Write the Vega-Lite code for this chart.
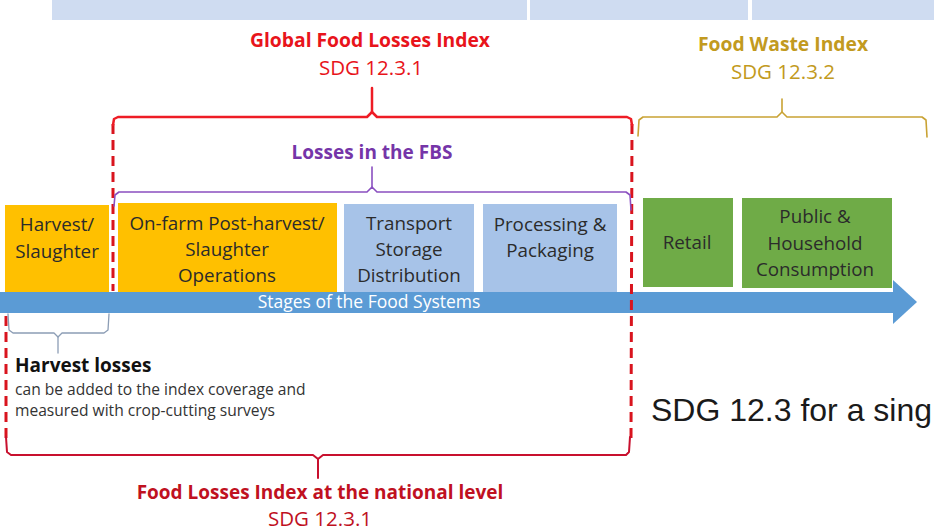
{
  "$schema": "https://vega.github.io/schema/vega-lite/v6.json",
  "width": 934,
  "height": 531,
  "padding": 0,
  "autosize": {"type": "fit", "contains": "padding"},
  "background": "white",
  "config": {"view": {"stroke": null}},
  "datasets": {
    "bars": [
      {"x": 52, "x2": 527, "y": 0, "y2": 20},
      {"x": 530, "x2": 748, "y": 0, "y2": 20},
      {"x": 752, "x2": 934, "y": 0, "y2": 20}
    ],
    "boxes": [
      {"kind": "farm", "x": 5, "x2": 109, "y": 205, "y2": 292},
      {"kind": "farm", "x": 118, "x2": 337, "y": 203, "y2": 292},
      {"kind": "fbs", "x": 344, "x2": 474, "y": 204, "y2": 292},
      {"kind": "fbs", "x": 483, "x2": 617, "y": 204, "y2": 292},
      {"kind": "waste", "x": 643, "x2": 733, "y": 198, "y2": 287},
      {"kind": "waste", "x": 742, "x2": 892, "y": 198, "y2": 288}
    ],
    "shaft": [{"x": 0, "x2": 894, "y": 292, "y2": 313}],
    "head": [
      {"x": 893, "y": 280, "y2": 324},
      {"x": 917, "y": 302, "y2": 302}
    ],
    "lines": [
      {"id": "redtop", "o": 1, "x": 113, "y": 125},
      {"id": "redtop", "o": 2, "x": 114, "y": 119},
      {"id": "redtop", "o": 3, "x": 118, "y": 117},
      {"id": "redtop", "o": 4, "x": 367, "y": 117},
      {"id": "redtop", "o": 5, "x": 372, "y": 112},
      {"id": "redtop", "o": 6, "x": 377, "y": 117},
      {"id": "redtop", "o": 7, "x": 627, "y": 117},
      {"id": "redtop", "o": 8, "x": 631, "y": 119},
      {"id": "redtop", "o": 9, "x": 632, "y": 125},
      {"id": "redtick", "o": 1, "x": 372, "y": 112},
      {"id": "redtick", "o": 2, "x": 372, "y": 88},
      {"id": "gold", "o": 1, "x": 638, "y": 136},
      {"id": "gold", "o": 2, "x": 639, "y": 120},
      {"id": "gold", "o": 3, "x": 643, "y": 117},
      {"id": "gold", "o": 4, "x": 777, "y": 117},
      {"id": "gold", "o": 5, "x": 782, "y": 112},
      {"id": "gold", "o": 6, "x": 787, "y": 117},
      {"id": "gold", "o": 7, "x": 922, "y": 117},
      {"id": "gold", "o": 8, "x": 926, "y": 120},
      {"id": "gold", "o": 9, "x": 927, "y": 137},
      {"id": "goldtick", "o": 1, "x": 782, "y": 112},
      {"id": "goldtick", "o": 2, "x": 782, "y": 99},
      {"id": "purple", "o": 1, "x": 114, "y": 206},
      {"id": "purple", "o": 2, "x": 115, "y": 195},
      {"id": "purple", "o": 3, "x": 119, "y": 192},
      {"id": "purple", "o": 4, "x": 367, "y": 192},
      {"id": "purple", "o": 5, "x": 372, "y": 187},
      {"id": "purple", "o": 6, "x": 377, "y": 192},
      {"id": "purple", "o": 7, "x": 626, "y": 192},
      {"id": "purple", "o": 8, "x": 630, "y": 195},
      {"id": "purple", "o": 9, "x": 631, "y": 210},
      {"id": "purpletick", "o": 1, "x": 372, "y": 187},
      {"id": "purpletick", "o": 2, "x": 372, "y": 167},
      {"id": "redbot", "o": 1, "x": 6, "y": 437},
      {"id": "redbot", "o": 2, "x": 7, "y": 452},
      {"id": "redbot", "o": 3, "x": 11, "y": 455},
      {"id": "redbot", "o": 4, "x": 313, "y": 455},
      {"id": "redbot", "o": 5, "x": 318, "y": 459},
      {"id": "redbot", "o": 6, "x": 323, "y": 455},
      {"id": "redbot", "o": 7, "x": 626, "y": 455},
      {"id": "redbot", "o": 8, "x": 629, "y": 452},
      {"id": "redbot", "o": 9, "x": 630, "y": 437},
      {"id": "redbottick", "o": 1, "x": 318, "y": 459},
      {"id": "redbottick", "o": 2, "x": 318, "y": 478},
      {"id": "grey", "o": 1, "x": 8, "y": 314},
      {"id": "grey", "o": 2, "x": 9, "y": 330},
      {"id": "grey", "o": 3, "x": 13, "y": 333},
      {"id": "grey", "o": 4, "x": 54, "y": 333},
      {"id": "grey", "o": 5, "x": 58, "y": 337},
      {"id": "grey", "o": 6, "x": 62, "y": 333},
      {"id": "grey", "o": 7, "x": 104, "y": 333},
      {"id": "grey", "o": 8, "x": 108, "y": 330},
      {"id": "grey", "o": 9, "x": 109, "y": 314},
      {"id": "greytick", "o": 1, "x": 58, "y": 337},
      {"id": "greytick", "o": 2, "x": 58, "y": 353}
    ],
    "dashed": [
      {"id": "d1", "o": 1, "x": 113, "y": 124},
      {"id": "d1", "o": 2, "x": 113, "y": 291},
      {"id": "d2", "o": 1, "x": 632, "y": 124},
      {"id": "d2", "o": 2, "x": 631, "y": 438},
      {"id": "d3", "o": 1, "x": 6, "y": 316},
      {"id": "d3", "o": 2, "x": 6, "y": 438}
    ],
    "texts": [
      {"g": "redhead", "t": "Global Food Losses Index", "x": 370, "y": 41},
      {"g": "redsub", "t": "SDG 12.3.1", "x": 371, "y": 69},
      {"g": "goldhead", "t": "Food Waste Index", "x": 783, "y": 45},
      {"g": "goldsub", "t": "SDG 12.3.2", "x": 783, "y": 73},
      {"g": "purplehead", "t": "Losses in the FBS", "x": 372, "y": 153},
      {"g": "box", "t": "Harvest/", "x": 57, "y": 225},
      {"g": "box", "t": "Slaughter", "x": 57, "y": 252},
      {"g": "box", "t": "On-farm  Post-harvest/", "x": 227, "y": 224},
      {"g": "box", "t": "Slaughter", "x": 227, "y": 250},
      {"g": "box", "t": "Operations", "x": 227, "y": 276},
      {"g": "box", "t": "Transport", "x": 409, "y": 224},
      {"g": "box", "t": "Storage", "x": 409, "y": 250},
      {"g": "box", "t": "Distribution", "x": 409, "y": 276},
      {"g": "box", "t": "Processing &", "x": 550, "y": 225},
      {"g": "box", "t": "Packaging", "x": 550, "y": 251},
      {"g": "box", "t": "Retail", "x": 687, "y": 243},
      {"g": "box", "t": "Public &", "x": 815, "y": 217},
      {"g": "box", "t": "Household", "x": 815, "y": 244},
      {"g": "box", "t": "Consumption", "x": 815, "y": 270},
      {"g": "arrow", "t": "Stages of the Food Systems", "x": 369, "y": 303},
      {"g": "harvest", "t": "Harvest losses", "x": 15, "y": 366},
      {"g": "small", "t": "can be added to the index coverage and", "x": 15, "y": 390},
      {"g": "small", "t": "measured with crop-cutting surveys", "x": 15, "y": 411},
      {"g": "bothead", "t": "Food Losses Index at the national level", "x": 320, "y": 493},
      {"g": "botsub", "t": "SDG 12.3.1", "x": 320, "y": 520},
      {"g": "big", "t": "SDG 12.3 for a sing", "x": 651, "y": 411}
    ]
  },
  "encoding": {
    "x": {"type": "quantitative", "scale": {"domain": [0, 934], "nice": false, "zero": false}, "axis": null},
    "y": {"type": "quantitative", "scale": {"domain": [0, 531], "nice": false, "zero": false, "reverse": true}, "axis": null}
  },
  "layer": [
    {
      "data": {"name": "bars"},
      "mark": {"type": "rect", "fill": "#cfdcf1"},
      "encoding": {"x": {"field": "x"}, "x2": {"field": "x2"}, "y": {"field": "y"}, "y2": {"field": "y2"}}
    },
    {
      "data": {"name": "boxes"},
      "mark": {"type": "rect", "strokeWidth": 0},
      "encoding": {
        "x": {"field": "x"}, "x2": {"field": "x2"}, "y": {"field": "y"}, "y2": {"field": "y2"},
        "fill": {"field": "kind", "type": "nominal", "scale": {"domain": ["farm", "fbs", "waste"], "range": ["#ffc000", "#a7c3e8", "#6fab47"]}, "legend": null}
      }
    },
    {
      "data": {"name": "shaft"},
      "mark": {"type": "rect", "fill": "#5b9bd5"},
      "encoding": {"x": {"field": "x"}, "x2": {"field": "x2"}, "y": {"field": "y"}, "y2": {"field": "y2"}}
    },
    {
      "data": {"name": "head"},
      "mark": {"type": "area", "fill": "#5b9bd5", "orient": "vertical"},
      "encoding": {"x": {"field": "x"}, "y": {"field": "y"}, "y2": {"field": "y2"}}
    },
    {
      "data": {"name": "dashed"},
      "mark": {"type": "line", "stroke": "#d9141e", "strokeWidth": 3, "strokeDash": [10, 6]},
      "encoding": {"x": {"field": "x"}, "y": {"field": "y"}, "detail": {"field": "id"}, "order": {"field": "o"}}
    },
    {
      "data": {"name": "lines"},
      "mark": {"type": "line", "strokeJoin": "round", "strokeCap": "round"},
      "encoding": {
        "x": {"field": "x"}, "y": {"field": "y"}, "detail": {"field": "id"}, "order": {"field": "o"},
        "stroke": {"field": "id", "type": "nominal", "legend": null, "scale": {
          "domain": ["redtop", "redtick", "gold", "goldtick", "purple", "purpletick", "redbot", "redbottick", "grey", "greytick"],
          "range": ["#ee1c25", "#ee1c25", "#c9a233", "#c9a233", "#8a4fc0", "#8a4fc0", "#c8102e", "#c8102e", "#8c9db5", "#8c9db5"]}},
        "strokeWidth": {"field": "id", "type": "nominal", "legend": null, "scale": {
          "type": "ordinal",
          "domain": ["redtop", "redtick", "gold", "goldtick", "purple", "purpletick", "redbot", "redbottick", "grey", "greytick"],
          "range": [2.5, 2.5, 1.6, 1.6, 1.6, 1.6, 2, 2, 1.3, 1.3]}}
      }
    },
    {
      "data": {"name": "texts"},
      "transform": [{"filter": "datum.g == 'redhead'"}],
      "mark": {"type": "text", "font": "Open Sans", "fontSize": 19.3, "fontWeight": "bold", "fill": "#e8141b", "baseline": "middle", "align": "center"},
      "encoding": {"x": {"field": "x"}, "y": {"field": "y"}, "text": {"field": "t"}}
    },
    {
      "data": {"name": "texts"},
      "transform": [{"filter": "datum.g == 'redsub'"}],
      "mark": {"type": "text", "font": "Open Sans", "fontSize": 20.5, "fill": "#e8141b", "baseline": "middle", "align": "center"},
      "encoding": {"x": {"field": "x"}, "y": {"field": "y"}, "text": {"field": "t"}}
    },
    {
      "data": {"name": "texts"},
      "transform": [{"filter": "datum.g == 'goldhead'"}],
      "mark": {"type": "text", "font": "Open Sans", "fontSize": 19.3, "fontWeight": "bold", "fill": "#c29a20", "baseline": "middle", "align": "center"},
      "encoding": {"x": {"field": "x"}, "y": {"field": "y"}, "text": {"field": "t"}}
    },
    {
      "data": {"name": "texts"},
      "transform": [{"filter": "datum.g == 'goldsub'"}],
      "mark": {"type": "text", "font": "Open Sans", "fontSize": 20.5, "fill": "#c29a20", "baseline": "middle", "align": "center"},
      "encoding": {"x": {"field": "x"}, "y": {"field": "y"}, "text": {"field": "t"}}
    },
    {
      "data": {"name": "texts"},
      "transform": [{"filter": "datum.g == 'purplehead'"}],
      "mark": {"type": "text", "font": "Open Sans", "fontSize": 19, "fontWeight": "bold", "fill": "#7535a8", "baseline": "middle", "align": "center"},
      "encoding": {"x": {"field": "x"}, "y": {"field": "y"}, "text": {"field": "t"}}
    },
    {
      "data": {"name": "texts"},
      "transform": [{"filter": "datum.g == 'box'"}],
      "mark": {"type": "text", "font": "Open Sans", "fontSize": 18.8, "fill": "#2b2b2b", "baseline": "middle", "align": "center"},
      "encoding": {"x": {"field": "x"}, "y": {"field": "y"}, "text": {"field": "t"}}
    },
    {
      "data": {"name": "texts"},
      "transform": [{"filter": "datum.g == 'arrow'"}],
      "mark": {"type": "text", "font": "Open Sans", "fontSize": 17.5, "fill": "#ffffff", "baseline": "middle", "align": "center"},
      "encoding": {"x": {"field": "x"}, "y": {"field": "y"}, "text": {"field": "t"}}
    },
    {
      "data": {"name": "texts"},
      "transform": [{"filter": "datum.g == 'harvest'"}],
      "mark": {"type": "text", "font": "Open Sans", "fontSize": 19, "fontWeight": "bold", "fill": "#111111", "baseline": "middle", "align": "left"},
      "encoding": {"x": {"field": "x"}, "y": {"field": "y"}, "text": {"field": "t"}}
    },
    {
      "data": {"name": "texts"},
      "transform": [{"filter": "datum.g == 'small'"}],
      "mark": {"type": "text", "font": "Open Sans", "fontSize": 15.6, "fill": "#333333", "baseline": "middle", "align": "left"},
      "encoding": {"x": {"field": "x"}, "y": {"field": "y"}, "text": {"field": "t"}}
    },
    {
      "data": {"name": "texts"},
      "transform": [{"filter": "datum.g == 'bothead'"}],
      "mark": {"type": "text", "font": "Open Sans", "fontSize": 19, "fontWeight": "bold", "fill": "#c0111f", "baseline": "middle", "align": "center"},
      "encoding": {"x": {"field": "x"}, "y": {"field": "y"}, "text": {"field": "t"}}
    },
    {
      "data": {"name": "texts"},
      "transform": [{"filter": "datum.g == 'botsub'"}],
      "mark": {"type": "text", "font": "Open Sans", "fontSize": 20.5, "fill": "#c0111f", "baseline": "middle", "align": "center"},
      "encoding": {"x": {"field": "x"}, "y": {"field": "y"}, "text": {"field": "t"}}
    },
    {
      "data": {"name": "texts"},
      "transform": [{"filter": "datum.g == 'big'"}],
      "mark": {"type": "text", "font": "Liberation Sans", "fontSize": 32, "fill": "#1a1a1a", "baseline": "middle", "align": "left", "clip": true},
      "encoding": {"x": {"field": "x"}, "y": {"field": "y"}, "text": {"field": "t"}}
    }
  ]
}
